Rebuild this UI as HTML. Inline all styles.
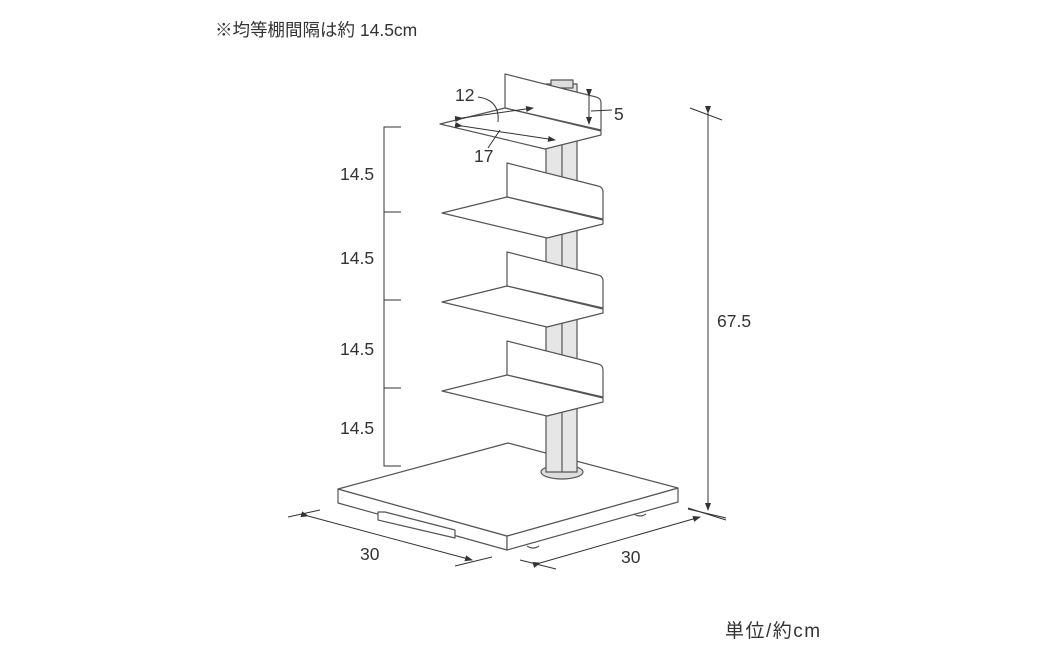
<!DOCTYPE html>
<html><head><meta charset="utf-8"><style>
body{margin:0;background:#fff;width:1040px;height:646px;overflow:hidden}
svg{display:block}
text{font-family:"Liberation Sans","Noto Sans CJK JP",sans-serif;fill:#333}
</style></head><body>
<svg width="1040" height="646" viewBox="0 0 1040 646">
<defs><marker id="a" markerWidth="8" markerHeight="8" refX="7" refY="4" orient="auto" markerUnits="userSpaceOnUse"><path d="M0,1 L8,4 L0,7Z" fill="#333"/></marker></defs>
<text x="215" y="36" font-size="17.5">※均等棚間隔は約 14.5cm</text>
<text x="725" y="637" font-size="19" letter-spacing="1.5">単位/約cm</text>
<g fill="#fff" stroke="#555" stroke-width="1.2" stroke-linejoin="round">
<polygon points="338,489 338,503 507,550 507,536"/>
<polygon points="507,536 507,550 678,502 678,488"/>
<polygon points="338,489 508,443 678,488 507,536"/>
<polygon points="378,512 378,520 455,538 455,530 385,512" />
<path d="M527,546 Q533,550 539,546"/><path d="M634,514 Q640,518 646,514"/>
<ellipse cx="562" cy="472" rx="21" ry="7" fill="#ddd"/>
<rect x="546" y="84" width="31" height="388" fill="#e6e6e6"/>
<line x1="562" y1="84" x2="562" y2="472"/>
<rect x="551" y="80" width="22" height="8" fill="#ddd"/>
</g>
<g fill="#fff" stroke="#555" stroke-width="1.2" stroke-linejoin="round">
<g id="s">
<path d="M505,108 L505,74 L596,97 Q601,98 601,103 L601,130 Z"/>
<polygon points="440,124 505,108 601,131 601,135 545,149 Q540,150 535,148 Z"/>
</g>
<use href="#s" transform="translate(2,89)"/>
<use href="#s" transform="translate(2,178)"/>
<use href="#s" transform="translate(2,267)"/>
</g>
<g stroke="#333" stroke-width="1" fill="none">
<line x1="462" y1="118" x2="533" y2="108" marker-start="url(#a)" marker-end="url(#a)"/>
<line x1="462" y1="126" x2="555" y2="140" marker-start="url(#a)" marker-end="url(#a)"/>
<line x1="589" y1="96" x2="589" y2="124" marker-start="url(#a)" marker-end="url(#a)"/>
<line x1="591" y1="111" x2="612" y2="110"/>
<path d="M478,97 Q500,100 498,122"/>
<line x1="500" y1="130" x2="488" y2="148"/>
<polyline points="401,127 384,127 384,466 401,466"/>
<line x1="384" y1="212" x2="401" y2="212"/><line x1="384" y1="300" x2="401" y2="300"/><line x1="384" y1="388" x2="401" y2="388"/>
<line x1="708" y1="113" x2="708" y2="510" marker-start="url(#a)" marker-end="url(#a)"/>
<line x1="690" y1="108" x2="722" y2="120"/><line x1="688" y1="508" x2="726" y2="520"/>
<line x1="308" y1="516" x2="472" y2="560" marker-start="url(#a)" marker-end="url(#a)"/>
<line x1="288" y1="517" x2="320" y2="510"/><line x1="455" y1="566" x2="492" y2="557"/>
<line x1="540" y1="563" x2="700" y2="517" marker-start="url(#a)" marker-end="url(#a)"/>
<line x1="520" y1="560" x2="556" y2="569"/><line x1="688" y1="509" x2="726" y2="518"/>
</g>
<g font-size="17.5">
<text x="455" y="101">12</text><text x="614" y="120">5</text><text x="474" y="162">17</text>
<text x="340" y="180">14.5</text><text x="340" y="264">14.5</text><text x="340" y="355">14.5</text><text x="340" y="434">14.5</text>
<text x="717" y="327">67.5</text>
<text x="360" y="560">30</text><text x="621" y="563">30</text>
</g>
</svg>
</body></html>
